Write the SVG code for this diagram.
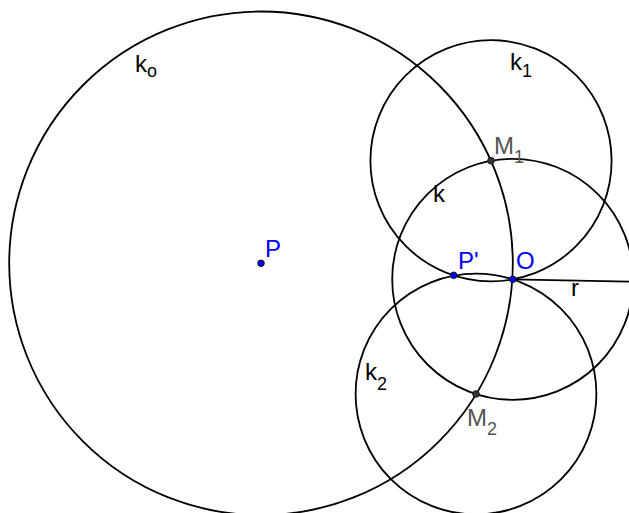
<svg xmlns="http://www.w3.org/2000/svg" width="629" height="513" viewBox="0 0 629 513">
<style>
.c{fill:none;stroke:#000;stroke-width:1.8}
.t{font-family:"Liberation Sans",Arial,sans-serif;font-size:24px;fill:#000}
.s{font-size:18px}
.b{fill:#0000ff}
.g{fill:#555}
.pb{fill:#0000ff;stroke:#1a1a1a;stroke-width:1}
.pg{fill:#333;stroke:#1a1a1a;stroke-width:1}
</style>
<rect width="629" height="513" fill="#fff"/>
<g id="connectors">
<circle class="c" cx="261" cy="263.3" r="251.8"/>
<circle class="c" cx="512.7" cy="279.3" r="120.5"/>
<circle class="c" cx="491" cy="160.7" r="120.6"/>
<circle class="c" cx="476" cy="394" r="120.4"/>
<line class="c" x1="512.7" y1="279.3" x2="629" y2="281.6"/>
</g>
<g id="labels">
<text class="t" x="135" y="72">k<tspan class="s" dy="5">o</tspan></text>
<text class="t" x="510" y="70">k<tspan class="s" dy="7">1</tspan></text>
<text class="t" x="365" y="380">k<tspan class="s" dy="10">2</tspan></text>
<text class="t" x="433" y="202">k</text>
<text class="t" x="571" y="296">r</text>
</g>
<g id="P"><circle class="pb" cx="261" cy="263.3" r="3.3"/><text class="t b" x="265" y="257">P</text></g>
<g id="Pp"><circle class="pb" cx="453.7" cy="275.3" r="3.3"/><text class="t b" x="458" y="269">P'</text></g>
<g id="O"><circle class="pb" cx="512.7" cy="279.3" r="3.3"/><text class="t b" x="516" y="269">O</text></g>
<g id="M1"><circle class="pg" cx="491" cy="160.7" r="3.3"/><text class="t g" x="494" y="154">M<tspan class="s" dy="9">1</tspan></text></g>
<g id="M2"><circle class="pg" cx="476" cy="394" r="3.3"/><text class="t g" x="467" y="426">M<tspan class="s" dy="9">2</tspan></text></g>
</svg>
